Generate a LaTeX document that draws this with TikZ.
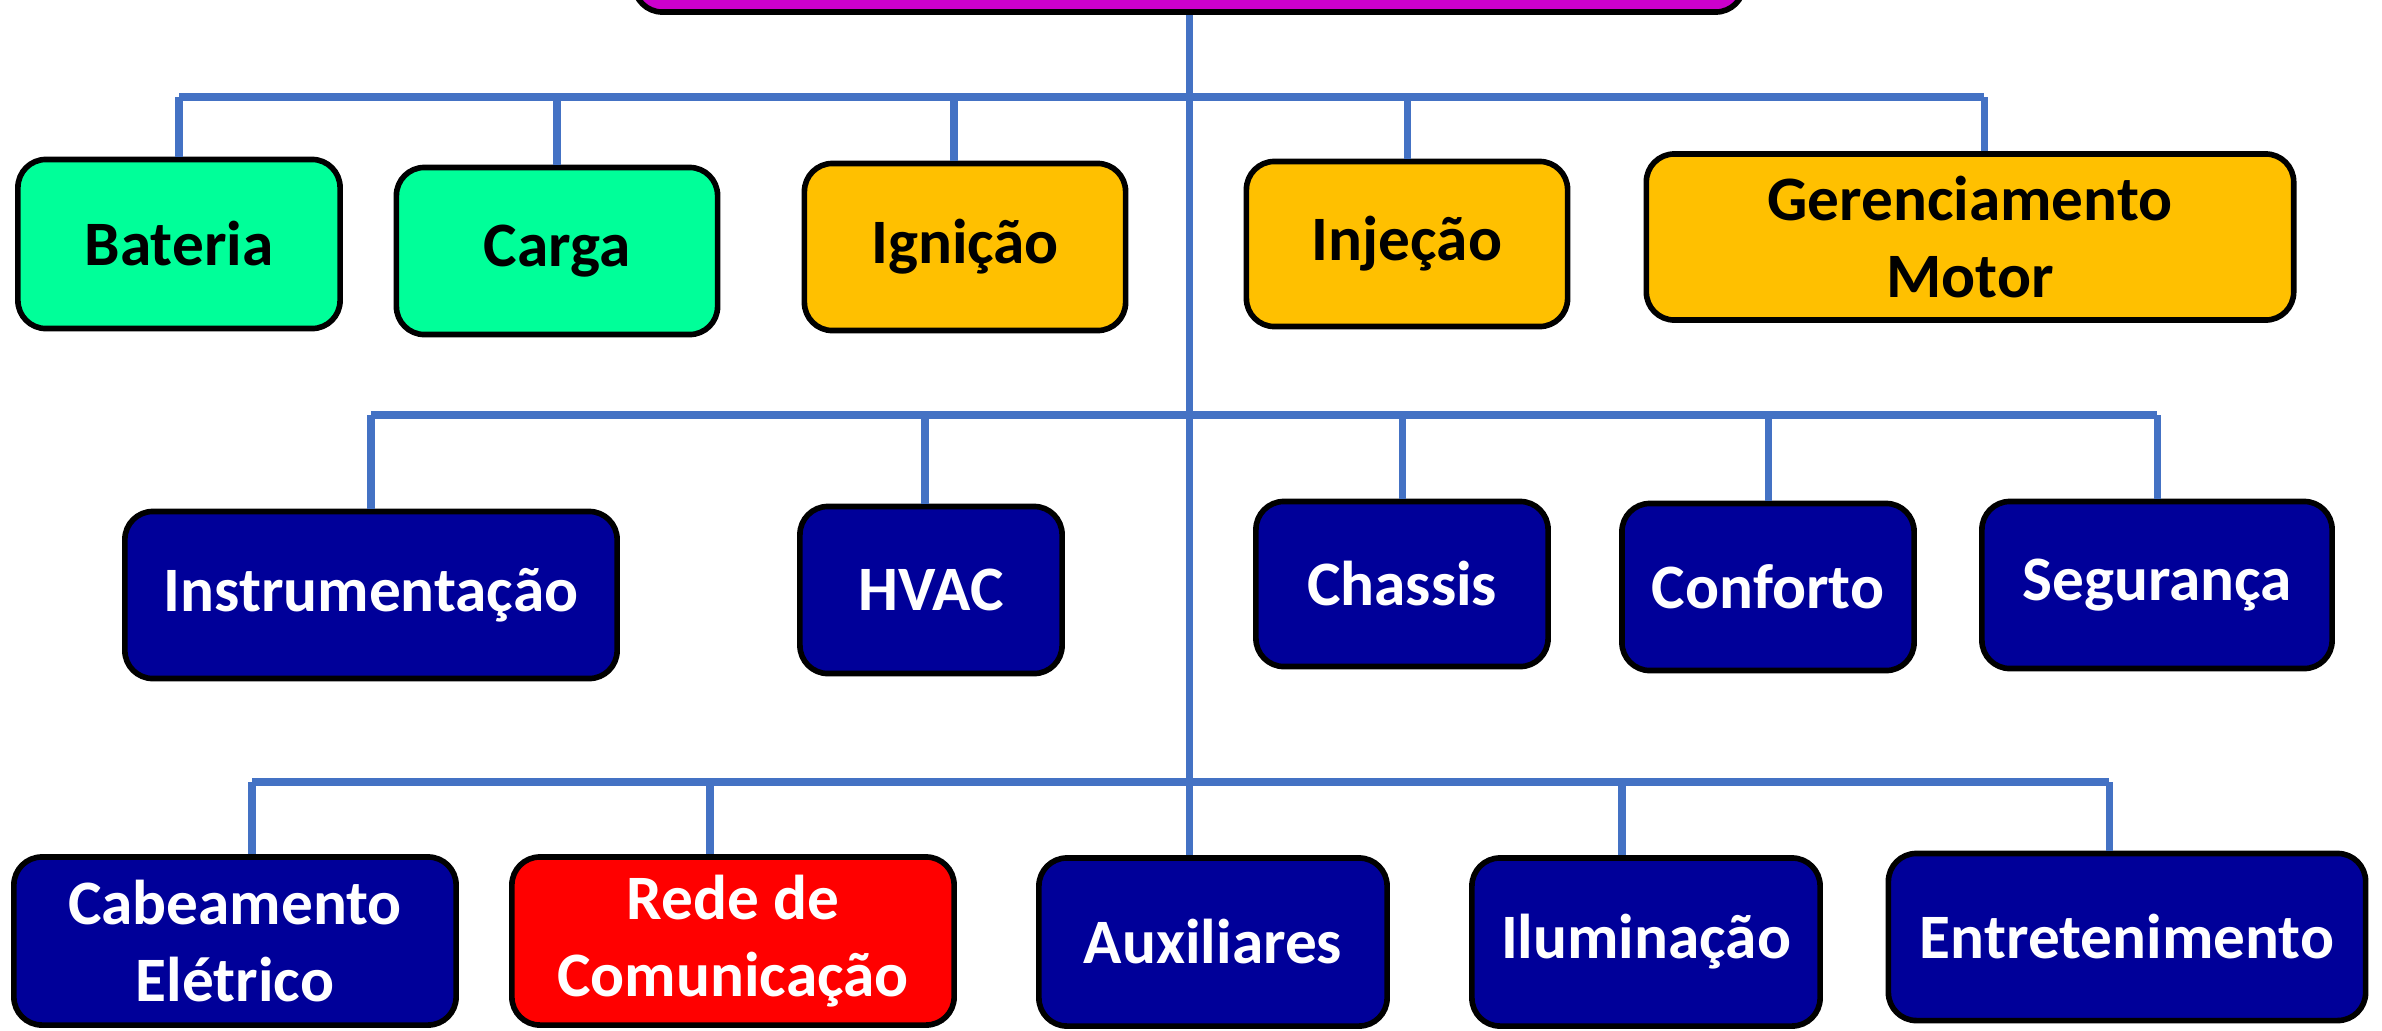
\documentclass[tikz,border=0pt]{standalone}
\usepackage{fontspec}
\setmainfont{Carlito}

\definecolor{linkblue}{HTML}{4472C4}
\definecolor{topmag}{HTML}{CC00CC}
\definecolor{boxgreen}{HTML}{00FF99}
\definecolor{boxorange}{HTML}{FFC000}
\definecolor{boxnavy}{HTML}{000099}
\definecolor{boxred}{HTML}{FF0000}

\tikzset{
  box/.style={draw=black, line width=1.6pt, rounded corners=0.28cm, inner sep=0pt,
    minimum height=1.67cm, align=center, font=\bfseries\fontsize{18}{21.8}\selectfont},
  greenbox/.style={box, fill=boxgreen, text=black},
  orangebox/.style={box, fill=boxorange, text=black},
  navybox/.style={box, fill=boxnavy, text=white},
  redbox/.style={box, fill=boxred, text=white},
  busline/.style={draw=linkblue, line width=2.5pt},
  dropline/.style={draw=linkblue, line width=2pt}
}

\begin{document}
\begin{tikzpicture}[x=0.01cm, y=-0.01cm]

		\useasboundingbox (0,0) rectangle (2382,1030);

		% Top
		\node[box, fill=topmag, minimum width=11.09cm, minimum height=1.2cm] (top) at (1189,-48) {};

		% Row 1
		\node[greenbox, minimum width=3.22cm, minimum height=1.69cm] (bat) at (179,244) {Bateria};
		\node[greenbox, minimum width=3.21cm] (car) at (557,251) {Carga};
		\node[orangebox, minimum width=3.21cm] (ign) at (965,247) {Ignição};
		\node[orangebox, minimum width=3.21cm, minimum height=1.65cm] (inj) at (1407,244) {Injeção};
		\node[orangebox, minimum width=6.47cm, minimum height=1.66cm] (ger) at (1970,237) {Gerenciamento\\Motor};

		% Row 2
		\node[navybox, minimum width=4.92cm] (ins) at (371,595) {Instrumentação};
		\node[navybox, minimum width=2.62cm] (hva) at (931,590) {HVAC};
		\node[navybox, minimum width=2.92cm, minimum height=1.65cm] (cha) at (1402,584) {Chassis};
		\node[navybox, minimum width=2.92cm] (con) at (1768,587) {Conforto};
		\node[navybox, minimum width=3.50cm] (seg) at (2157,585) {Segurança};

		% Row 3
		\node[navybox, minimum width=4.42cm, minimum height=1.68cm] (cab) at (235,941) {Cabeamento\\Elétrico};
		\node[redbox, minimum width=4.42cm, minimum height=1.68cm] (red) at (733,941) {Rede de\\Comunicação};
		\node[navybox, minimum width=3.48cm, minimum height=1.68cm] (aux) at (1213,942) {Auxiliares};
		\node[navybox, minimum width=3.48cm, minimum height=1.68cm] (ilu) at (1646,942) {Iluminação};
		\node[navybox, minimum width=4.77cm] (ent) at (2127,937) {Entretenimento};

		% Links
		\coordinate (r1) at (0,97);
		\coordinate (r2) at (0,415);
		\coordinate (r3) at (0,782);

		\draw[dropline] (top.south) -- (top.south |- aux.north);

		\draw[busline] (bat.north |- r1) -- ([xshift=0.14cm]ger.north |- r1);
		\foreach \n/\s in {bat/0,car/0,ign/-0.11,inj/0,ger/0.14}
		\draw[dropline] ([xshift=\s cm]\n.north) -- ([xshift=\s cm]\n.north |- r1);

		\draw[busline] (ins.north |- r2) -- (seg.north |- r2);
		\foreach \n/\s in {ins/0,hva/-0.06,cha/0,con/0,seg/0}
		\draw[dropline] ([xshift=\s cm]\n.north) -- ([xshift=\s cm]\n.north |- r2);

		\draw[busline] ([xshift=0.17cm]cab.north |- r3) -- ([xshift=-0.18cm]ent.north |- r3);
		\foreach \n/\s in {cab/0.17,red/-0.23,ilu/-0.24,ent/-0.18}
		\draw[dropline] ([xshift=\s cm]\n.north) -- ([xshift=\s cm]\n.north |- r3);

\end{tikzpicture}
\end{document}
